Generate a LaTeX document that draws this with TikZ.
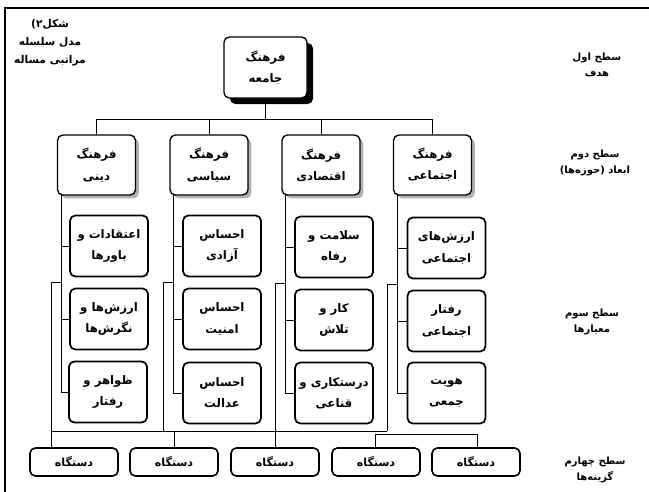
\documentclass[tikz,border=0pt]{standalone}
\usepackage{fontspec}
\usetikzlibrary{shadows}
\TeXXeTstate=1
\newfontfamily\fa[Script=Arabic]{DejaVu Sans}
\newcommand{\rl}[1]{\beginR #1\endR}
\begin{document}
\begin{tikzpicture}[x=0.75pt,y=-0.75pt,
  conn/.style={line width=0.7pt},
  boxbase/.style={draw, rounded corners=4pt, fill=white, align=center, inner sep=1pt,
    font=\fa\bfseries\fontsize{8.8}{16}\selectfont},
  lvA/.style={boxbase, line width=1pt, minimum width=62.25pt, minimum height=45.75pt,
    drop shadow={shadow xshift=4.5pt, shadow yshift=-4.5pt, fill=black, opacity=1}},
  lvB/.style={boxbase, line width=1pt, minimum width=58.5pt, minimum height=45pt,
    drop shadow={shadow xshift=2.5pt, shadow yshift=-2.5pt, fill=gray!60, opacity=1}},
  lvC/.style={boxbase, line width=1.3pt, minimum width=58.5pt, minimum height=45.75pt},
  lvD/.style={boxbase, line width=1.2pt, minimum width=66pt, minimum height=21pt,
    font=\fa\bfseries\fontsize{8.3}{14}\selectfont},
  lab/.style={align=center, inner sep=0pt, font=\fa\bfseries\fontsize{7.5}{11.5}\selectfont},
  ttl/.style={align=center, inner sep=0pt, font=\fa\bfseries\fontsize{8}{13.5}\selectfont}
]
\useasboundingbox (0,0) rectangle (649,492);
\fill[white] (0,0) rectangle (649,492);
% frame
\draw[line width=0.8pt] (5,492) -- (5,8) -- (649,8);

% title
\node[ttl] (title) at (50,43) {\rl{شکل۲)}\\\rl{مدل سلسله}\\\rl{مراتبی مساله}};

% level 1
\node[lvA] (top) at (265.5,67.5) {\rl{فرهنگ}\\\rl{جامعه}};

% level 2
\node[lvB] (d) at (96.5,165) {\rl{فرهنگ}\\\rl{دینی}};
\node[lvB] (s) at (209,165) {\rl{فرهنگ}\\\rl{سیاسی}};
\node[lvB] (e) at (321,165) {\rl{فرهنگ}\\\rl{اقتصادی}};
\node[lvB] (j) at (432.5,165) {\rl{فرهنگ}\\\rl{اجتماعی}};

% level 3
\node[lvC] (d1) at (109,246) {\rl{اعتقادات و}\\\rl{باورها}};
\node[lvC] (d2) at (109,319) {\rl{ارزش‌ها و}\\\rl{نگرش‌ها}};
\node[lvC] (d3) at (108,392) {\rl{ظواهر و}\\\rl{رفتار}};
\node[lvC] (s1) at (222,246) {\rl{احساس}\\\rl{آزادی}};
\node[lvC] (s2) at (222,319) {\rl{احساس}\\\rl{امنیت}};
\node[lvC] (s3) at (222,393) {\rl{احساس}\\\rl{عدالت}};
\node[lvC] (e1) at (334,247) {\rl{سلامت و}\\\rl{رفاه}};
\node[lvC] (e2) at (334,320) {\rl{کار و}\\\rl{تلاش}};
\node[lvC] (e3) at (334,393) {\rl{درستکاری و}\\\rl{قناعی}};
\node[lvC] (j1) at (446.5,248) {\rl{ارزش‌های}\\\rl{اجتماعی}};
\node[lvC] (j2) at (446.5,321) {\rl{رفتار}\\\rl{اجتماعی}};
\node[lvC] (j3) at (446.5,393) {\rl{هویت}\\\rl{جمعی}};

% level 4
\node[lvD] (g1) at (74,462) {\rl{دستگاه}};
\node[lvD] (g2) at (174,462) {\rl{دستگاه}};
\node[lvD] (g3) at (275,462) {\rl{دستگاه}};
\node[lvD] (g4) at (376,462) {\rl{دستگاه}};
\node[lvD] (g5) at (476,462) {\rl{دستگاه}};

% right labels
\node[lab] (r1) at (597,65) {\rl{سطح اول}\\\rl{هدف}};
\node[lab] (r2) at (595,163) {\rl{سطح دوم}\\\rl{ابعاد (حوزه‌ها)}};
\node[lab] (r3) at (592,322) {\rl{سطح سوم}\\\rl{معیارها}};
\node[lab] (r4) at (595,470) {\rl{سطح چهارم}\\\rl{گزینه‌ها}};

% level 1 -> level 2
\coordinate (h1) at (97,119);
\coordinate (h4) at (433,119);
\draw[conn] (top.south) -- (top.south |- h1);
\draw[conn] (h1) -- (h4);
\foreach \n in {d,s,e,j} {\draw[conn] (\n.north |- h1) -- (\n.north);}

% spines and feeders
\coordinate (sp1) at (61,194);  \coordinate (fa1) at (61,282); \coordinate (fb1) at (51,282);
\coordinate (sp2) at (173,194); \coordinate (fa2) at (173,282); \coordinate (fb2) at (163,282);
\coordinate (sp3) at (285,194); \coordinate (fa3) at (285,283); \coordinate (fb3) at (275,283);
\coordinate (sp4) at (397,194); \coordinate (fa4) at (397,284); \coordinate (fb4) at (387,284);
\foreach \c/\k in {1/d,2/s,3/e,4/j} {
  \draw[conn] (sp\c) |- (\k1.west);
  \draw[conn] (sp\c) |- (\k2.west);
  \draw[conn] (sp\c) |- (\k3.west);
  \draw[conn] (fa\c) -- (fb\c);
}
% bottom bus
\coordinate (b1) at (51,431);
\coordinate (b4) at (387,431);
\coordinate (c1) at (375,434);
\coordinate (c2) at (477,434);
\draw[conn] (fb1) -- (b1);
\draw[conn] (fb2) -- (fb2 |- b1);
\draw[conn] (fb3) -- (fb3 |- b1);
\draw[conn] (fb4) -- (b4);
\draw[conn] (b1) -- (b4);
\draw[conn] (c1) -- (c2);
\draw[conn] (b1) -- (g1.north -| b1);
\draw[conn] (g2.north |- b1) -- (g2.north);
\draw[conn] (fb3 |- b1) -- (g3.north -| fb3);
\draw[conn] (c1) -- (g4.north -| c1);
\draw[conn] (c2) -- (g5.north -| c2);
\end{tikzpicture}
\end{document}
